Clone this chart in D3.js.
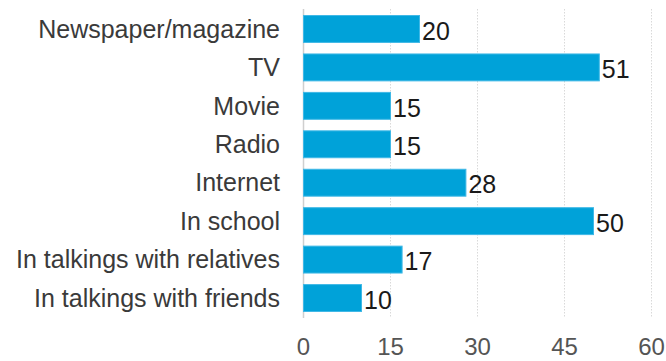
<!DOCTYPE html>
<html>
<head>
<meta charset="utf-8">
<script src="https://cdn.jsdelivr.net/npm/d3@7"></script>
<style>
  html, body { margin: 0; padding: 0; background: #fff; }
  svg { display: block; }
  text { font-family: "Liberation Sans", Arial, Helvetica, sans-serif; }
</style>
</head>
<body>
<svg id="chart" width="666" height="361"></svg>
<script>
// Where people hear about the topic (share, %)
const categories = [
  "Newspaper/magazine",
  "TV",
  "Movie",
  "Radio",
  "Internet",
  "In school",
  "In talkings with relatives",
  "In talkings with friends"
];
const values = [20, 51, 15, 15, 28, 50, 17, 10];
const tickValues = [0, 15, 30, 45, 60];

const svg = d3.select("#chart");

const x = d3.scaleLinear().domain([0, 60]).range([303, 651]);
const y = d3.scaleBand().domain(categories).range([4, 323]).padding(0.3);

const gridTop = 9, gridBottom = 318;

// vertical grid lines
svg.append("g")
  .selectAll("line")
  .data(tickValues)
  .join("line")
  .attr("x1", d => x(d) + 0.5)
  .attr("x2", d => x(d) + 0.5)
  .attr("y1", gridTop)
  .attr("y2", gridBottom)
  .attr("stroke", d => d === 0 ? "#cfcfcf" : "#d9d9d9")
  .attr("stroke-width", d => d === 0 ? 1.5 : 1)
  .attr("stroke-dasharray", d => d === 0 ? null : "1.5,1.5");

// bars
svg.append("g")
  .selectAll("rect")
  .data(categories)
  .join("rect")
  .attr("x", x(0) + 0.5)
  .attr("y", d => y(d))
  .attr("width", (d, i) => x(values[i]) - x(0))
  .attr("height", y.bandwidth())
  .attr("fill", "#00a2d9")
  .attr("stroke", "#3fb8e6")
  .attr("stroke-width", 1);

// value labels
svg.append("g")
  .selectAll("text")
  .data(categories)
  .join("text")
  .attr("x", (d, i) => x(values[i]) + 3)
  .attr("y", d => y(d) + y.bandwidth() / 2 + 2)
  .attr("dy", "0.35em")
  .attr("font-size", 25)
  .attr("fill", "#1a1a1a")
  .text((d, i) => values[i]);

// category labels
svg.append("g")
  .selectAll("text")
  .data(categories)
  .join("text")
  .attr("x", 280)
  .attr("y", d => y(d) + y.bandwidth() / 2)
  .attr("dy", "0.35em")
  .attr("text-anchor", "end")
  .attr("font-size", 25)
  .attr("fill", "#3a3a3a")
  .text(d => d);

// x axis tick labels
const xAxis = d3.axisBottom(x).tickValues(tickValues).tickSize(0).tickPadding(0);
const ax = svg.append("g").attr("transform", "translate(0,355)").call(xAxis);
ax.select(".domain").remove();
ax.selectAll("text")
  .attr("y", 0)
  .attr("dy", "0")
  .attr("font-size", 24)
  .attr("fill", "#555")
  .style("font-family", "'Liberation Sans', Arial, Helvetica, sans-serif");
</script>
</body>
</html>
